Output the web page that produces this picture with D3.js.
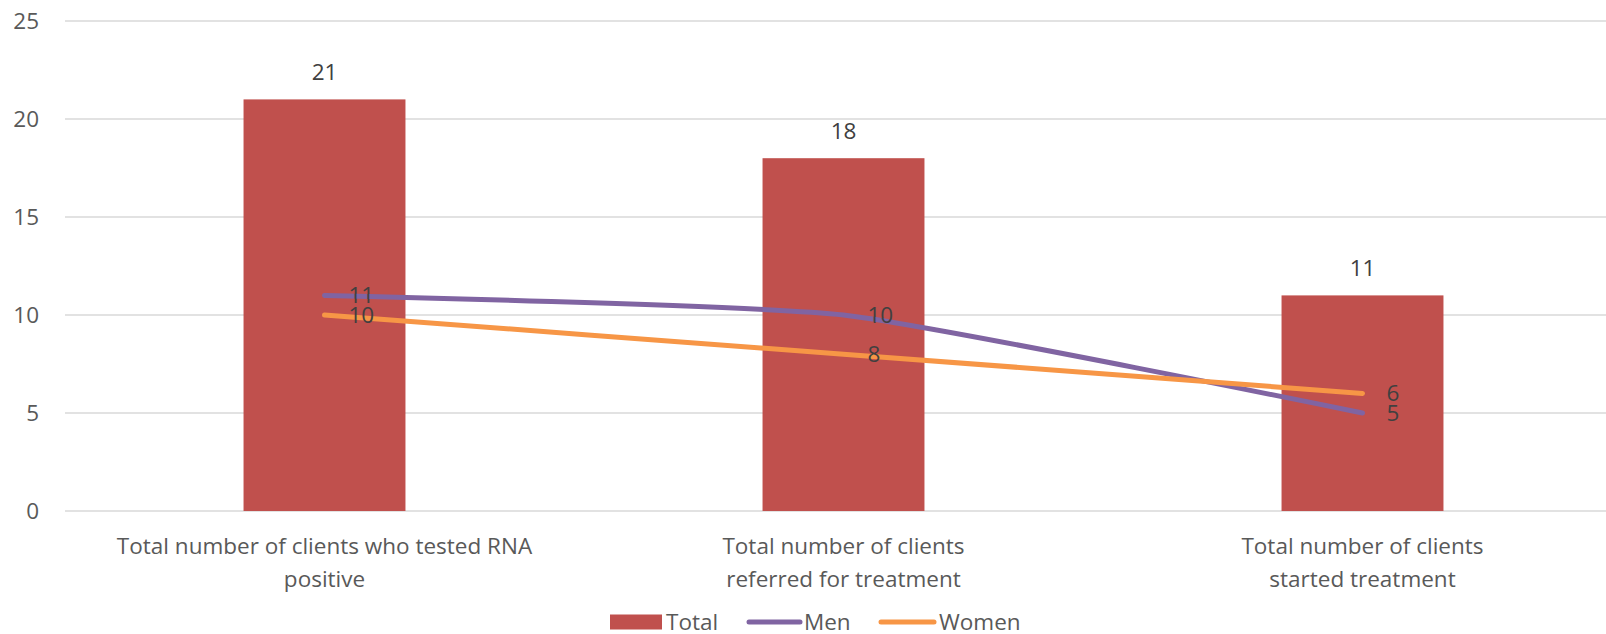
<!DOCTYPE html>
<html>
<head>
<meta charset="utf-8">
<script src="https://cdn.jsdelivr.net/npm/d3@7"></script>
<style>
  body { margin: 0; background: #fff; }
  text { font-family: "Open Sans", sans-serif; }
</style>
</head>
<body>
<div id="chart"></div>
<script>
const w = 1606,
      h = 634;
const categories = [
  ['Total number of clients who tested RNA', 'positive'],
  ['Total number of clients', 'referred for treatment'],
  ['Total number of clients', 'started treatment']
];
const totalValues = [21, 18, 11];
const menValues = [11, 10, 5];
const womenValues = [10, 8, 6];
const yTicks = [0, 5, 10, 15, 20, 25];
const legendItems = ['Total', 'Men', 'Women'];

const colors = { total: '#c0504d', men: '#8064a2', women: '#f79646' };
const fs = '22.5px';

const svg = d3.select('#chart').append('svg')
              .attr('width', w)
              .attr('height', h);

const x = d3.scaleBand()
            .domain(d3.range(categories.length))
            .range([65, 1622])
            .padding(0);
const y = d3.scaleLinear()
            .domain([0, 25])
            .range([511, 21]);
const barW = x.bandwidth() * 0.312;
const cx = i => x(i) + x.bandwidth() / 2;

// gridlines
svg.append('g').selectAll('line')
   .data(yTicks)
   .enter().append('line')
   .attr('x1', 65).attr('x2', w)
   .attr('y1', d => y(d)).attr('y2', d => y(d))
   .attr('stroke', '#d9d9d9')
   .attr('stroke-width', 1.5);

// y axis labels
svg.append('g').selectAll('text')
   .data(yTicks)
   .enter().append('text')
   .attr('x', 39)
   .attr('y', d => y(d))
   .attr('dy', '0.35em')
   .attr('text-anchor', 'end')
   .attr('fill', '#595959')
   .style('font-size', fs)
   .text(d => d);

// bars
svg.append('g').selectAll('rect')
   .data(totalValues)
   .enter().append('rect')
   .attr('x', (d, i) => cx(i) - barW / 2)
   .attr('y', d => y(d))
   .attr('width', barW)
   .attr('height', d => y(0) - y(d))
   .attr('fill', colors.total);

svg.append('g').selectAll('text')
   .data(totalValues)
   .enter().append('text')
   .attr('x', (d, i) => cx(i))
   .attr('y', d => y(d) - 19)
   .attr('text-anchor', 'middle')
   .attr('fill', '#404040')
   .style('font-size', fs)
   .text(d => d);

// lines
const line = d3.line()
               .x((d, i) => cx(i))
               .y(d => y(d))
               .curve(d3.curveCardinal.tension(0.5));

[[menValues, colors.men], [womenValues, colors.women]].forEach(([vals, col]) => {
  svg.append('path')
     .datum(vals)
     .attr('d', line)
     .attr('fill', 'none')
     .attr('stroke', col)
     .attr('stroke-width', 5)
     .attr('stroke-linecap', 'round');
});

[menValues, womenValues].forEach(vals => {
  svg.append('g').selectAll('text')
     .data(vals)
     .enter().append('text')
     .attr('x', (d, i) => cx(i) + 24)
     .attr('y', d => y(d))
     .attr('dy', '0.35em')
     .attr('fill', '#404040')
     .style('font-size', fs)
     .text(d => d);
});

// category labels
const cats = svg.append('g').selectAll('text')
   .data(categories)
   .enter().append('text')
   .attr('x', (d, i) => cx(i))
   .attr('y', 554)
   .attr('text-anchor', 'middle')
   .attr('fill', '#595959')
   .style('font-size', fs);
cats.selectAll('tspan')
    .data(d => d)
    .enter().append('tspan')
    .attr('x', function() { return d3.select(this.parentNode).attr('x'); })
    .attr('dy', (d, i) => i === 0 ? 0 : 33)
    .text(d => d);

// legend
const legend = svg.append('g').attr('transform', 'translate(0,622)');
legend.append('rect')
      .attr('x', 610).attr('y', -7.5)
      .attr('width', 52).attr('height', 15)
      .attr('fill', colors.total);
legend.append('line')
      .attr('x1', 749).attr('x2', 800).attr('y1', 0).attr('y2', 0)
      .attr('stroke', colors.men).attr('stroke-width', 5).attr('stroke-linecap', 'round');
legend.append('line')
      .attr('x1', 881).attr('x2', 934).attr('y1', 0).attr('y2', 0)
      .attr('stroke', colors.women).attr('stroke-width', 5).attr('stroke-linecap', 'round');
legend.selectAll('text.leg')
      .data(legendItems)
      .enter().append('text')
      .attr('class', 'leg')
      .attr('x', (d, i) => [666, 804, 939][i])
      .attr('y', 0)
      .attr('dy', '0.35em')
      .attr('fill', '#595959')
      .style('font-size', fs)
      .text(d => d);
</script>
</body>
</html>
